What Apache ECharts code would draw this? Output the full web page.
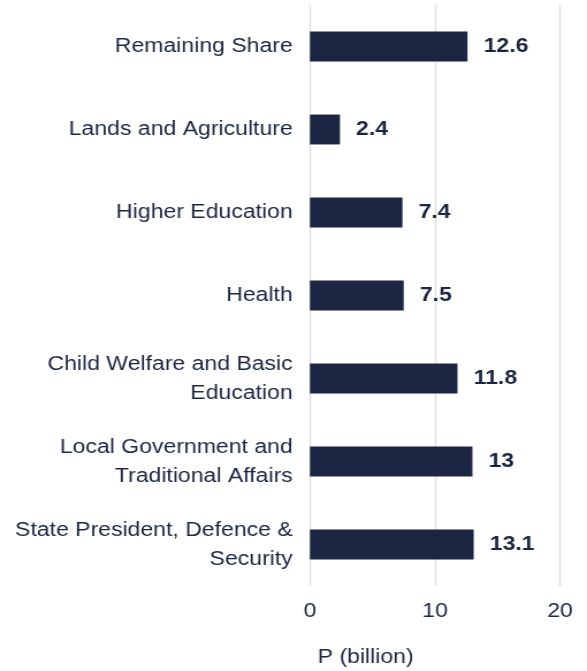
<!DOCTYPE html>
<html>
<head>
<meta charset="utf-8">
<script src="https://cdn.jsdelivr.net/npm/echarts@6/dist/echarts.min.js"></script>
<style>
html,body{margin:0;padding:0;background:#fff;overflow:hidden;}
#c{width:510px;height:671px;transform:scaleX(1.151);transform-origin:0 0;}
</style>
</head>
<body>
<div id="c"></div>
<script>
const categories = [
  "Remaining Share",
  "Lands and Agriculture",
  "Higher Education",
  "Health",
  "Child Welfare and Basic\nEducation",
  "Local Government and\nTraditional Affairs",
  "State President, Defence &\nSecurity"
];
const values = [12.6, 2.4, 7.4, 7.5, 11.8, 13, 13.1];
const xTicks = [0, 10, 20];

const chart = echarts.init(document.getElementById('c'));
const textColor = '#1c2541';
const font = 'Liberation Sans, Arial, Helvetica, sans-serif';
chart.setOption({
  animation: false,
  title: {
    text: 'P (billion)',
    left: 271,
    top: 642,
    textStyle: { fontFamily: font, fontSize: 20, fontWeight: 'normal', color: textColor }
  },
  grid: { left: 269.3, right: 23.5, top: 5, bottom: 85, containLabel: false },
  xAxis: {
    type: 'value',
    min: 0, max: 20, interval: 10,
    axisLine: { show: false },
    axisTick: { show: false },
    splitLine: { show: true, lineStyle: { color: '#dedede', width: 1.4 } },
    axisLabel: {
      margin: 15,
      fontFamily: font, fontSize: 20, color: textColor,
      formatter: v => xTicks.includes(v) ? String(v) : ''
    }
  },
  yAxis: {
    type: 'category',
    data: categories,
    inverse: true,
    axisLine: { show: false },
    axisTick: { show: false },
    axisLabel: {
      margin: 15,
      fontFamily: font, fontSize: 20, color: textColor,
      lineHeight: 29, align: 'right'
    }
  },
  series: [{
    type: 'bar',
    data: values,
    barWidth: '36%',
    itemStyle: { color: '#1c2541' },
    label: {
      show: true, position: 'right', distance: 14,
      fontFamily: font, fontSize: 20, fontWeight: 'bold', color: textColor
    }
  }]
});
</script>
</body>
</html>
